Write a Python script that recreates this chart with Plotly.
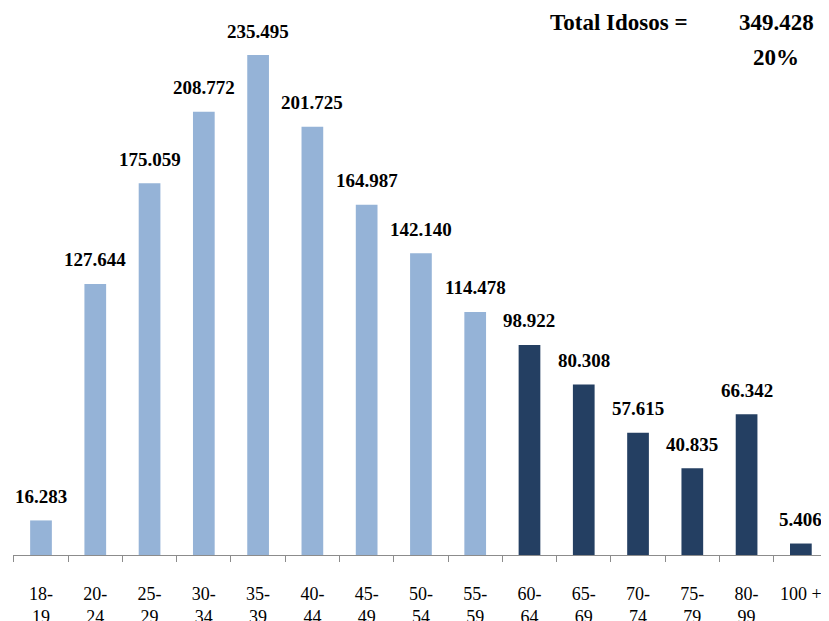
import plotly.graph_objects as go

categories = ["18-<br>19", "20-<br>24", "25-<br>29", "30-<br>34", "35-<br>39", "40-<br>44",
              "45-<br>49", "50-<br>54", "55-<br>59", "60-<br>64", "65-<br>69", "70-<br>74",
              "75-<br>79", "80-<br>99", "100 +"]
values = [16283, 127644, 175059, 208772, 235495, 201725, 164987, 142140, 114478,
          98922, 80308, 57615, 40835, 66342, 5406]
labels = ["16.283", "127.644", "175.059", "208.772", "235.495", "201.725", "164.987",
          "142.140", "114.478", "98.922", "80.308", "57.615", "40.835", "66.342", "5.406"]
is_elderly = [False] * 9 + [True] * 6

light = "#95B3D7"
dark = "#243F62"
colors = [dark if e else light for e in is_elderly]

fig = go.Figure()
fig.add_trace(go.Bar(x=categories, y=values, marker=dict(color=colors, line=dict(width=0)),
                     width=0.4, hoverinfo="skip"))

font_family = "Liberation Serif, Times New Roman, serif"
# the page body has an 8px margin, so the figure is drawn 8px smaller
OFF = 8
W, H = 829 - OFF, 621 - OFF
ml, mr, mt = 13 - OFF, 1, 0
axis_y = 555 - OFF
mb = H - axis_y
pw, ph = W - ml - mr, H - mt - mb
ymax = 235495 * ph / 500.0

annotations = []
for c, v, t in zip(categories, values, labels):
    annotations.append(dict(x=c, y=v, text="<b>%s</b>" % t, showarrow=False,
                            xanchor="center", yanchor="middle", yshift=24,
                            font=dict(family=font_family, size=19, color="black")))

header = [("<b>Total Idosos =</b>", 619, 22), ("<b>349.428</b>", 776, 22), ("<b>20%</b>", 776, 57)]
for txt, px, py in header:
    annotations.append(dict(text=txt, showarrow=False, xref="paper", yref="paper",
                            x=(px - OFF - ml) / pw, y=1 - (py - OFF - mt) / ph,
                            xanchor="center", yanchor="middle",
                            font=dict(family=font_family, size=23, color="black")))

fig.update_layout(
    width=W, height=H,
    margin=dict(l=ml, r=mr, t=mt, b=mb, autoexpand=False),
    plot_bgcolor="white", paper_bgcolor="white",
    showlegend=False,
    annotations=annotations,
    xaxis=dict(showline=True, linecolor="#8C8C8C", linewidth=1, ticks="outside",
               tickson="boundaries", ticklen=6, tickcolor="#8C8C8C",
               tickfont=dict(family=font_family, size=18, color="black"),
               ticklabelstandoff=22, showgrid=False, fixedrange=True, automargin=False),
    yaxis=dict(range=[0, ymax], visible=False, showgrid=False),
)
fig.write_html("out.html")
